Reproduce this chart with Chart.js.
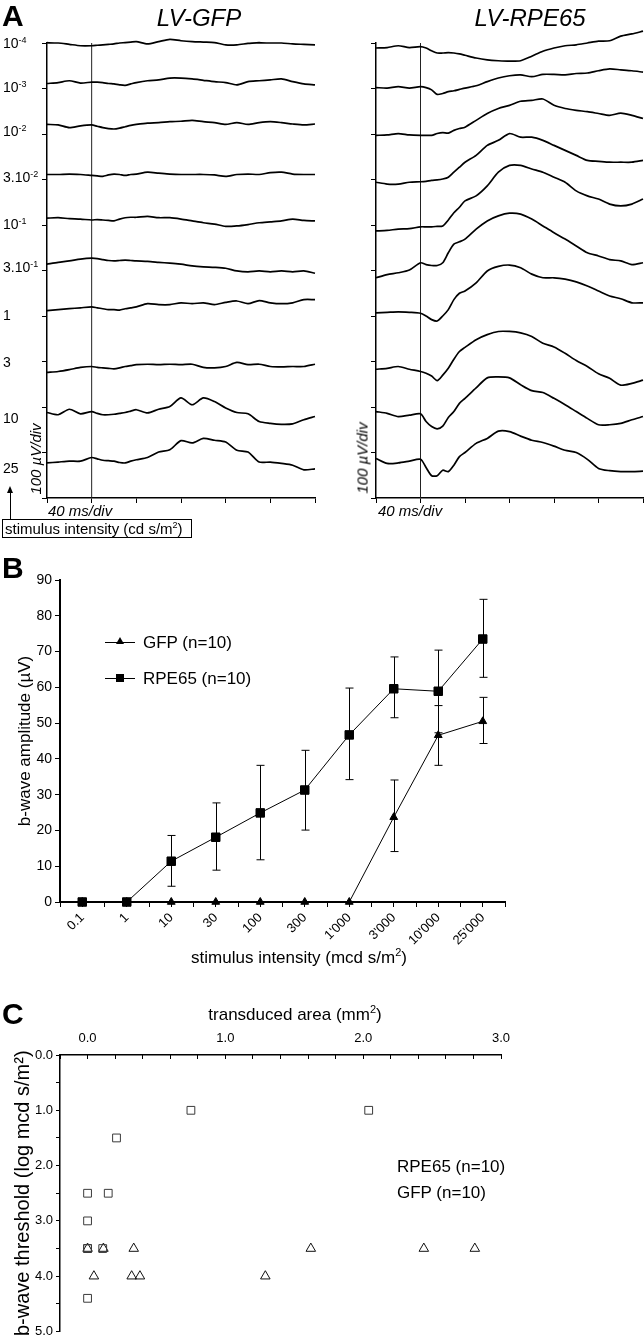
<!DOCTYPE html>
<html>
<head>
<meta charset="utf-8">
<script src="https://cdn.jsdelivr.net/npm/chart.js@4.4.1/dist/chart.umd.min.js"></script>
<style>
  html, body { margin: 0; padding: 0; background: #fff; }
  #fig { position: relative; width: 644px; height: 1338px; overflow: hidden;
         font-family: "Liberation Sans", Arial, sans-serif; color: #000; }
  #fig canvas { position: absolute; }
  .t { position: absolute; white-space: nowrap; line-height: 1; }
  .big { font-weight: bold; font-size: 30px; }
  .ttl { font-style: italic; font-size: 24px; }
  .lab { position: absolute; left: 3px; font-size: 14px; line-height: 14px; white-space: nowrap; }
  .lab sup { font-size: 9px; line-height: 0; vertical-align: 5px; }
  .it { font-style: italic; font-size: 15px; }
  .vert { transform: translate(-50%, -50%) rotate(-90deg); }
  .leg { position: absolute; font-size: 17px; line-height: 20px; white-space: nowrap; }
  .axt { position: absolute; font-size: 17px; line-height: 20px; white-space: nowrap; transform: translateX(-50%); }
  .axt sup { font-size: 11px; line-height: 0; }
  .key { display: inline-block; position: relative; width: 30px; height: 1px; background: #000;
         vertical-align: middle; margin-right: 8px; top: -1px; }
  .key .sq { position: absolute; left: 11px; top: -4px; width: 8px; height: 8px; background: #000; }
  .key .tri { position: absolute; left: 11px; top: -5px; width: 0; height: 0;
              border-left: 4px solid transparent; border-right: 4px solid transparent; border-bottom: 7px solid #000; }
  #box { position: absolute; left: 2px; top: 519px; width: 186px; height: 17px; border: 1px solid #000;
         font-size: 15px; line-height: 17px; padding-left: 2px; white-space: nowrap; }
  #box sup { font-size: 9px; line-height: 0; }
  #arrowShaft { position: absolute; left: 10px; top: 492px; width: 1px; height: 27px; background: #000; }
  #arrowHead { position: absolute; left: 7px; top: 486px; width: 0; height: 0;
               border-left: 3.5px solid transparent; border-right: 3.5px solid transparent; border-bottom: 7px solid #000; }
</style>
</head>
<body>
<div id="fig">
  <canvas id="gfpChart" width="330" height="520" style="left:0;top:0"></canvas>
  <canvas id="rpeChart" width="314" height="520" style="left:330px;top:0"></canvas>
  <canvas id="ampChart" width="530" height="425" style="left:0;top:555px"></canvas>
  <canvas id="thrChart" width="530" height="343" style="left:0;top:995px"></canvas>

  <div class="t big" style="left:2px;top:1px">A</div>
  <div class="t ttl" style="left:199px;top:6px;transform:translateX(-50%)">LV-GFP</div>
  <div class="t ttl" style="left:530px;top:6px;transform:translateX(-50%)">LV-RPE65</div>

  <div class="lab" style="top:36px">10<sup>-4</sup></div>
  <div class="lab" style="top:80px">10<sup>-3</sup></div>
  <div class="lab" style="top:124px">10<sup>-2</sup></div>
  <div class="lab" style="top:170px">3.10<sup>-2</sup></div>
  <div class="lab" style="top:217px">10<sup>-1</sup></div>
  <div class="lab" style="top:260px">3.10<sup>-1</sup></div>
  <div class="lab" style="top:308px">1</div>
  <div class="lab" style="top:355px">3</div>
  <div class="lab" style="top:411px">10</div>
  <div class="lab" style="top:461px">25</div>

  <div class="t it vert" style="left:35px;top:459px">100 µV/div</div>
  <div class="t it vert" style="left:362px;top:458px">100 µV/div</div>
  <div class="t it" style="left:48px;top:503px">40 ms/div</div>
  <div class="t it" style="left:378px;top:503px">40 ms/div</div>
  <div id="arrowShaft"></div><div id="arrowHead"></div>
  <div id="box">stimulus intensity (cd s/m<sup>2</sup>)</div>

  <div class="t big" style="left:2px;top:553px">B</div>
  <div class="leg" style="left:105px;top:633px"><span class="key"><i class="tri"></i></span>GFP (n=10)</div>
  <div class="leg" style="left:105px;top:669px"><span class="key"><i class="sq"></i></span>RPE65 (n=10)</div>
  <div class="axt" style="left:299px;top:948px">stimulus intensity (mcd s/m<sup>2</sup>)</div>

  <div class="t big" style="left:2px;top:999px">C</div>
  <div class="axt" style="left:295px;top:1005px">transduced area (mm<sup>2</sup>)</div>
  <div class="leg" style="left:397px;top:1157px">RPE65 (n=10)</div>
  <div class="leg" style="left:397px;top:1183px">GFP (n=10)</div>
</div>

<script>
// ---------- panel A: ERG traces (µV), sampled at these times (ms after flash)
const TIME_MS = [-40,-30,-20,-10,0,5,10,15,20,25,30,35,40,50,60,70,80,90,100,110,120,130,140,150,160,170,180,190,200];
const STIM_MS = 0;

// baseline of each trace, top (10^-4 cd s/m2) to bottom (25 cd s/m2)
const GFP_BASE = [1001, 911, 821, 711, 615, 514, 412, 276, 188, 77];
const GFP_TRACES = [
  [0,-1,-4,-7,-7,-6,-5,-4,-3,-1,0,1,2,-3,2,7,4,2,1,0,-5,-5,-2,0,-1,-1,-3,-4,-5],
  [0,2,6,1,3,3,2,0,-1,-3,-4,-1,2,6,8,12,12,10,7,4,2,-3,4,6,8,10,4,-1,-3],
  [0,-1,-7,-3,-1,-4,-7,-9,-10,-8,-5,-2,0,3,4,6,7,9,6,4,0,4,0,4,6,4,1,-1,1],
  [0,0,1,0,-2,-3,-4,-1,1,0,-2,0,1,5,3,1,0,0,0,-1,-4,0,1,0,4,5,1,0,0],
  [0,1,-1,-2,-4,-3,-4,-5,-6,-2,1,2,2,4,1,1,-2,-6,-10,-13,-18,-17,-14,-10,-8,-6,-2,-5,-6],
  [0,4,7,11,13,12,10,8,7,8,9,8,7,6,4,2,0,-4,-6,-7,-9,-15,-17,-15,-17,-15,-17,-15,-20],
  [0,2,4,6,8,6,4,2,2,1,4,6,8,15,13,13,17,15,17,13,18,21,15,22,17,15,17,24,24],
  [0,2,6,11,13,11,10,9,8,10,13,15,17,18,17,18,17,18,11,10,13,22,17,18,13,12,13,13,18],
  [0,-5,7,-3,2,-2,-5,-5,-4,-2,0,3,6,-1,7,13,32,17,32,24,10,0,-3,-20,-24,-26,-25,-16,-9],
  [0,2,4,4,12,9,6,5,4,1,0,4,7,12,24,29,49,44,54,50,46,28,24,2,2,-1,-5,-15,-13]
];

const RPE_BASE = [989, 902, 797, 694, 587, 484, 407, 283, 190, 87];
const RPE_TRACES = [
  [0,1,5,1,3,0,-6,-11,-11,-10,-11,-13,-16,-22,-26,-28,-29,-28,-18,-7,0,5,7,11,15,16,26,31,37],
  [0,-1,2,-1,2,0,-5,-15,-13,-9,-7,-4,-1,4,13,21,26,28,24,29,29,28,31,32,37,41,39,37,34],
  [0,1,4,1,0,0,0,4,6,5,11,15,18,33,48,59,66,75,77,80,66,59,55,52,48,44,49,44,37],
  [0,-4,-4,0,1,2,4,5,7,11,22,33,44,59,81,92,107,99,99,92,81,70,59,48,46,44,44,44,48],
  [0,1,4,5,9,9,9,10,11,24,40,52,66,77,99,129,144,144,136,129,118,107,88,77,70,59,55,59,70],
  [0,7,11,17,33,29,27,27,33,55,74,79,85,107,125,136,142,140,129,114,99,85,70,55,48,40,37,29,33],
  [0,1,2,1,-1,-7,-15,-18,-7,7,29,43,48,66,92,102,105,99,85,77,77,74,68,59,48,37,31,22,22],
  [0,2,6,0,-5,-9,-15,-25,-13,2,22,39,48,65,76,83,83,80,72,57,49,35,19,6,-10,-20,-35,-31,-24],
  [0,-4,-11,-8,-5,-22,-33,-38,-32,-13,0,18,29,52,74,76,74,59,46,42,29,15,0,-15,-29,-29,-26,-18,-11],
  [0,-11,-10,-6,-2,-20,-38,-38,-26,-29,-15,4,13,33,44,60,59,49,40,35,27,18,13,-2,-22,-27,-29,-29,-28]
];

// ---------- panel B: b-wave amplitude (µV) vs stimulus intensity
const B_LABELS = ['0.1', '1', '10', '30', '100', '300', "1'000", "3'000", "10'000", "25'000"];
const GFP_AMP  = [0, 0, 0, 0, 0, 0, 0, 23.7, 46.6, 50.5];
const GFP_HI   = [null, null, null, null, null, null, null, 34.1, 54.9, 57.2];
const GFP_LO   = [null, null, null, null, null, null, null, 14.1, 38.2, 44.3];
const RPE_AMP  = [0, 0, 11.4, 18.1, 24.9, 31.3, 46.7, 59.6, 58.9, 73.5];
const RPE_HI   = [null, null, 18.6, 27.7, 38.2, 42.4, 59.8, 68.5, 70.4, 84.6];
const RPE_LO   = [null, null, 4.4, 8.9, 11.8, 20.1, 34.2, 51.5, 47.3, 62.8];

// ---------- panel C: b-wave threshold (log mcd s/m2) vs transduced area (mm2)
const RPE_AREA   = [0.75, 2.04, 0.21, 0.0, 0.15, 0.0, 0.0, 0.0, 0.11, 0.0];
const RPE_THRESH = [1.0, 1.0, 1.5, 2.5, 2.5, 3.0, 3.5, 3.5, 3.5, 4.4];
const GFP_AREA   = [0.0, 0.115, 0.335, 1.62, 2.44, 2.81, 0.046, 0.32, 0.38, 1.29];
const GFP_THRESH = [3.5, 3.5, 3.5, 3.5, 3.5, 3.5, 4.0, 4.0, 4.0, 4.0];

Chart.defaults.font.family = '"Liberation Sans", Arial, sans-serif';
Chart.defaults.color = '#000';

const noPad = s => { s.paddingLeft = 0; s.paddingRight = 0; s.paddingTop = 0; s.paddingBottom = 0; };
const axisGrid = len => ({ drawOnChartArea: false, color: '#000', lineWidth: 1, tickLength: len });
const quiet = { responsive: false, animation: false, events: [] };
const noLegend = { legend: { display: false }, tooltip: { enabled: false } };

function traceChart(id, base, traces, padRight, yWidth) {
  const sets = traces.map((dev, i) => ({
    data: TIME_MS.map((t, k) => ({ x: t, y: base[i] + dev[k] })),
    borderColor: '#000', borderWidth: 1.7, pointRadius: 0, tension: 0.25, clip: false
  }));
  sets.push({ data: [{ x: STIM_MS, y: 0 }, { x: STIM_MS, y: 1000 }],
              borderColor: '#222', borderWidth: 1, pointRadius: 0 });
  new Chart(document.getElementById(id), {
    type: 'line',
    data: { datasets: sets },
    options: {
      ...quiet,
      plugins: noLegend,
      layout: { padding: { top: 43, right: padRight, left: 0, bottom: 0 } },
      scales: {
        x: { type: 'linear', min: -40, max: 200, ticks: { stepSize: 40, display: false },
             grid: axisGrid(5), border: { color: '#000', width: 1.5 },
             afterFit: s => { s.height = 22; noPad(s); } },
        y: { min: 0, max: 1000, ticks: { stepSize: 100, display: false },
             grid: axisGrid(5), border: { color: '#000', width: 1.5 },
             afterFit: s => { s.width = yWidth; noPad(s); } }
      }
    }
  });
}

traceChart('gfpChart', GFP_BASE, GFP_TRACES, 15, 47);
traceChart('rpeChart', RPE_BASE, RPE_TRACES, 1, 46);

// error bars for panel B, drawn through the chart's own scales
const errorBars = {
  id: 'errorBars',
  afterDatasetsDraw(chart) {
    const { ctx, scales: { x, y } } = chart;
    ctx.save();
    ctx.strokeStyle = '#000';
    ctx.lineWidth = 1;
    chart.data.datasets.forEach(ds => {
      if (!ds.errHi) return;
      ds.errHi.forEach((hi, i) => {
        if (hi == null) return;
        const px = Math.round(x.getPixelForValue(i)) + 0.5;
        const yh = y.getPixelForValue(hi), yl = y.getPixelForValue(ds.errLo[i]);
        ctx.beginPath();
        ctx.moveTo(px, yh); ctx.lineTo(px, yl);
        ctx.moveTo(px - 4, yh); ctx.lineTo(px + 4, yh);
        ctx.moveTo(px - 4, yl); ctx.lineTo(px + 4, yl);
        ctx.stroke();
      });
    });
    ctx.restore();
  }
};

const pts = arr => arr.map((v, i) => ({ x: i, y: v }));

new Chart(document.getElementById('ampChart'), {
  type: 'line',
  data: {
    datasets: [
      { label: 'RPE65 (n=10)', data: pts(RPE_AMP), errHi: RPE_HI, errLo: RPE_LO,
        borderColor: '#000', backgroundColor: '#000', borderWidth: 1,
        pointStyle: 'rect', pointRadius: 6, clip: false },
      { label: 'GFP (n=10)', data: pts(GFP_AMP), errHi: GFP_HI, errLo: GFP_LO,
        borderColor: '#000', backgroundColor: '#000', borderWidth: 1,
        pointStyle: 'triangle', pointRadius: 4.5, clip: false }
    ]
  },
  options: {
    ...quiet,
    plugins: noLegend,
    layout: { padding: { top: 25, right: 25, left: 0, bottom: 0 } },
    scales: {
      x: { type: 'linear', min: -0.5, max: 9.5,
           ticks: { stepSize: 0.5, autoSkip: false, minRotation: 45, maxRotation: 45, padding: 3,
                    font: { size: 13 }, callback: v => Number.isInteger(v) ? B_LABELS[v] : '' },
           grid: axisGrid(5), border: { color: '#000', width: 2 },
           afterFit: s => { s.height = 78; noPad(s); } },
      y: { min: 0, max: 90,
           ticks: { stepSize: 10, font: { size: 14 }, padding: 3 },
           grid: axisGrid(5), border: { color: '#000', width: 2 },
           title: { display: true, text: 'b-wave amplitude (µV)', font: { size: 17 },
                    padding: { top: 15, bottom: 0 } },
           afterFit: s => { s.width = 60; noPad(s); } }
    }
  },
  plugins: [errorBars]
});

const xy = (xs, ys) => xs.map((v, i) => ({ x: v, y: ys[i] }));

new Chart(document.getElementById('thrChart'), {
  type: 'scatter',
  data: {
    datasets: [
      { label: 'RPE65 (n=10)', data: xy(RPE_AREA, RPE_THRESH), pointStyle: 'rect', pointRadius: 5.5,
        borderColor: '#3a3a3a', backgroundColor: 'rgba(0,0,0,0)', borderWidth: 1, clip: false },
      { label: 'GFP (n=10)', data: xy(GFP_AREA, GFP_THRESH), pointStyle: 'triangle', pointRadius: 5.5,
        borderColor: '#111', backgroundColor: 'rgba(0,0,0,0)', borderWidth: 1, clip: false }
    ]
  },
  options: {
    ...quiet,
    plugins: noLegend,
    layout: { padding: { top: 0, right: 29, left: 0, bottom: 6 } },
    scales: {
      x: { type: 'linear', position: 'top', min: -0.2, max: 3.0,
           ticks: { stepSize: 0.2, autoSkip: false, maxRotation: 0, padding: 13, font: { size: 13 },
                    callback: v => { const r = Math.round(v * 10) / 10;
                                     return Math.abs(r - Math.round(r)) < 1e-9 ? r.toFixed(1) : ''; } },
           grid: axisGrid(-4), border: { color: '#000', width: 1.5 },
           afterFit: s => { s.height = 60; noPad(s); } },
      y: { reverse: true, min: 0, max: 5,
           ticks: { stepSize: 0.5, autoSkip: false, padding: 3, font: { size: 13 },
                    callback: v => Number.isInteger(v) ? v.toFixed(1) : '' },
           grid: axisGrid(4), border: { color: '#000', width: 1.5 },
           title: { display: true, text: 'b-wave threshold (log mcd s/m²)', font: { size: 20 },
                    padding: { top: 11, bottom: 0 } },
           afterFit: s => { s.width = 60; noPad(s); } }
    }
  }
});
</script>
</body>
</html>
